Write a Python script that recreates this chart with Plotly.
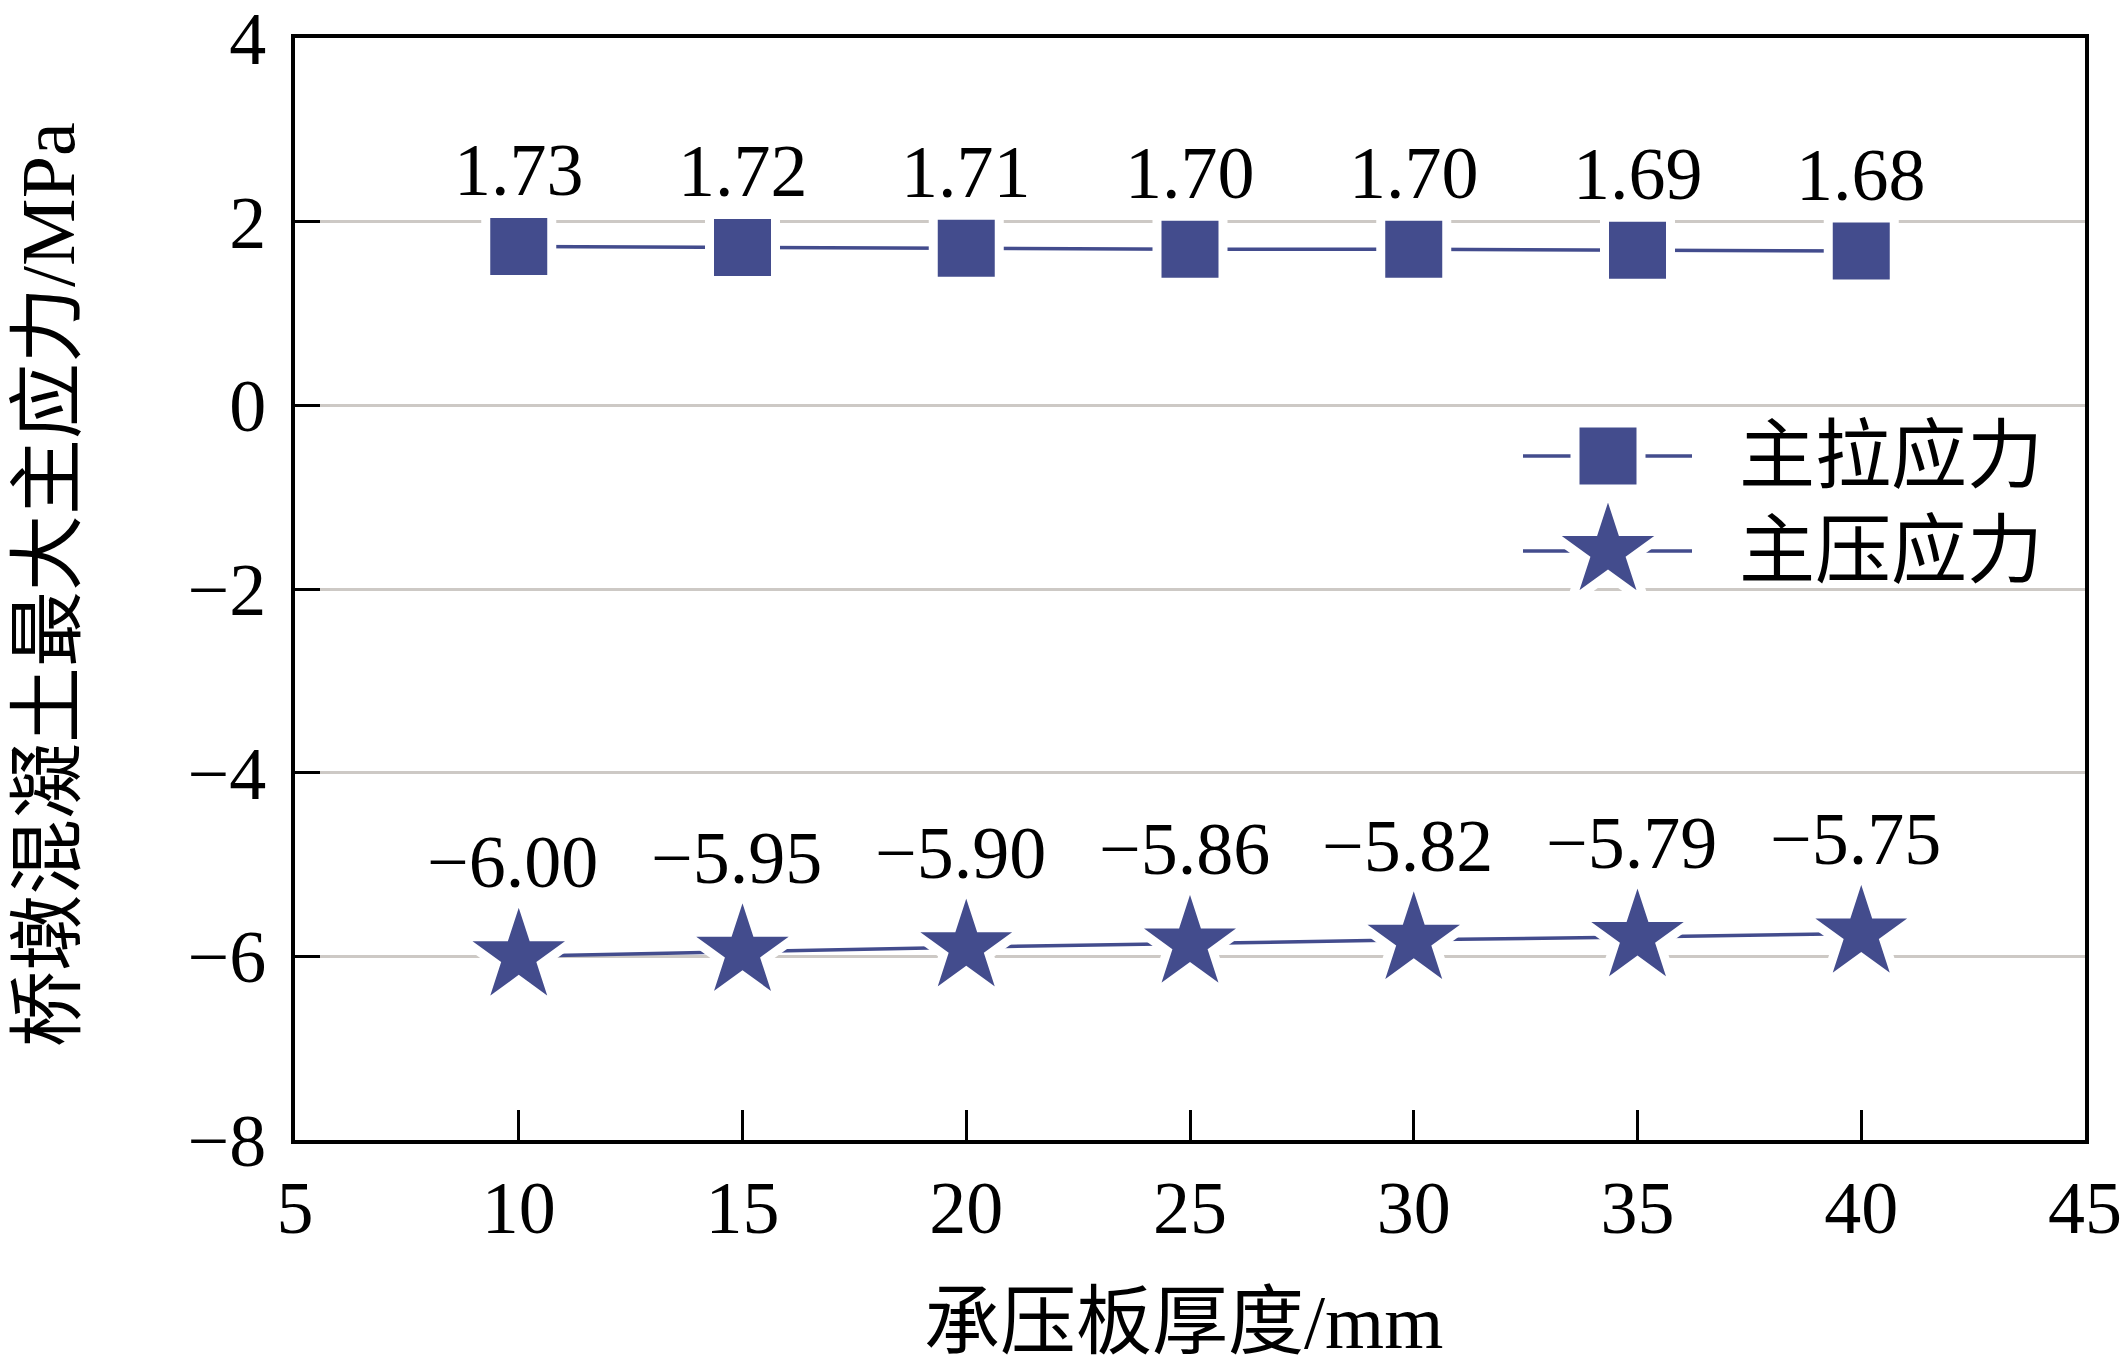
import plotly.graph_objects as go

# ---- data ----
thickness = [10, 15, 20, 25, 30, 35, 40]
tension = [1.73, 1.72, 1.71, 1.70, 1.70, 1.69, 1.68]
compression = [-6.00, -5.95, -5.90, -5.86, -5.82, -5.79, -5.75]
series_names = ["主拉应力", "主压应力"]
x_ticks = [5, 10, 15, 20, 25, 30, 35, 40, 45]
y_ticks = [4, 2, 0, -2, -4, -6, -8]
x_title = "承压板厚度/mm"
y_title = "桥墩混凝土最大主应力/MPa"

# ---- style ----
W, H = 2123, 1365
L, R, T, B = 295, 38, 38, 225
PW, PH = W - L - R, H - T - B
COLOR = "#434c8d"
FONT = "Liberation Serif, Times New Roman, Noto Sans CJK SC"
FS = 74
GAP = 9
SQ_SIZE = 57 + GAP
STAR_SIZE = 90


def px_x(p):
    return (p - L) / PW


def px_y(p):
    return 1 - (p - T) / PH


def fmt(v):
    return f"{v:.2f}".replace("-", "\u2212")


fig = go.Figure()

# data traces
fig.add_trace(go.Scatter(
    x=thickness, y=tension, mode="lines+markers", name=series_names[0],
    line=dict(color=COLOR, width=3.5),
    marker=dict(symbol="square", size=SQ_SIZE, color=COLOR,
                line=dict(color="white", width=GAP)),
    showlegend=False, cliponaxis=False))
fig.add_trace(go.Scatter(
    x=thickness, y=compression, mode="lines+markers", name=series_names[1],
    line=dict(color=COLOR, width=3.5),
    marker=dict(symbol="star", size=STAR_SIZE, color=COLOR,
                line=dict(color="white", width=GAP)),
    showlegend=False, cliponaxis=False))

annotations = []
for xv, yv in zip(thickness, tension):
    annotations.append(dict(x=xv, y=yv, xref="x", yref="y", text=fmt(yv),
                            showarrow=False, yshift=76, yanchor="middle",
                            font=dict(family=FONT, size=FS, color="black")))
for xv, yv in zip(thickness, compression):
    annotations.append(dict(x=xv, y=yv, xref="x", yref="y", text=fmt(yv),
                            showarrow=False, yshift=94, xshift=-6, yanchor="middle",
                            font=dict(family=FONT, size=FS, color="black")))

# ---- custom legend (pixel-coordinate helper axes) ----
leg_rows = [456, 551]
leg_symbols = ["square", "star"]
leg_sizes = [SQ_SIZE, STAR_SIZE]
for row_y, sym, sz, name in zip(leg_rows, leg_symbols, leg_sizes, series_names):
    fig.add_trace(go.Scatter(
        x=[1523, 1692], y=[row_y, row_y], xaxis="x2", yaxis="y2",
        mode="lines", line=dict(color=COLOR, width=3.5),
        showlegend=False, hoverinfo="skip"))
    fig.add_trace(go.Scatter(
        x=[1608], y=[row_y], xaxis="x2", yaxis="y2", mode="markers",
        marker=dict(symbol=sym, size=sz, color=COLOR,
                    line=dict(color="white", width=GAP)),
        showlegend=False, hoverinfo="skip"))
    annotations.append(dict(x=px_x(1737), y=px_y(row_y), xref="paper", yref="paper",
                            text=name, showarrow=False, xanchor="left", yanchor="middle",
                            font=dict(family=FONT, size=FS + 2, color="black")))

# axis titles
annotations.append(dict(x=px_x(1183), y=px_y(1322), xref="paper", yref="paper",
                        text=x_title, showarrow=False, xanchor="center", yanchor="middle",
                        font=dict(family=FONT, size=FS + 2, color="black")))
annotations.append(dict(x=px_x(48), y=px_y(585), xref="paper", yref="paper",
                        text=y_title, showarrow=False, xanchor="center", yanchor="middle",
                        textangle=-90,
                        font=dict(family=FONT, size=FS + 2, color="black")))

fig.update_layout(
    template="none",
    width=W, height=H,
    margin=dict(l=L, r=R, t=T, b=B, pad=0, autoexpand=False),
    paper_bgcolor="white", plot_bgcolor="white",
    showlegend=False,
    font=dict(family=FONT, size=FS, color="black"),
    xaxis=dict(range=[5, 45], tickvals=x_ticks, ticktext=[str(v) for v in x_ticks],
               automargin=False,
               ticks="inside", ticklen=30, tickwidth=3, tickcolor="black",
               showline=True, linecolor="black", linewidth=4, mirror=True,
               showgrid=False, zeroline=False,
               tickfont=dict(family=FONT, size=FS, color="black")),
    yaxis=dict(range=[-8, 4.0001], tickvals=y_ticks,
               ticktext=[str(v).replace("-", "\u2212") for v in y_ticks],
               automargin=False,
               ticks="inside", ticklen=25, tickwidth=3, tickcolor="black",
               showline=True, linecolor="black", linewidth=4, mirror=True,
               showgrid=True, gridcolor="#cdc9c5", gridwidth=3, zeroline=False,
               ticklabelstandoff=10, ticklabeloverflow="allow",
               tickfont=dict(family=FONT, size=FS, color="black")),
    xaxis2=dict(range=[L, W - R], overlaying="x", visible=False, fixedrange=True,
                automargin=False),
    yaxis2=dict(range=[H - B, T], overlaying="y", visible=False, fixedrange=True,
                automargin=False),
    annotations=annotations,
)

fig.write_html("out.html", post_script="document.body.style.margin='0';",
               config={"displayModeBar": False})
